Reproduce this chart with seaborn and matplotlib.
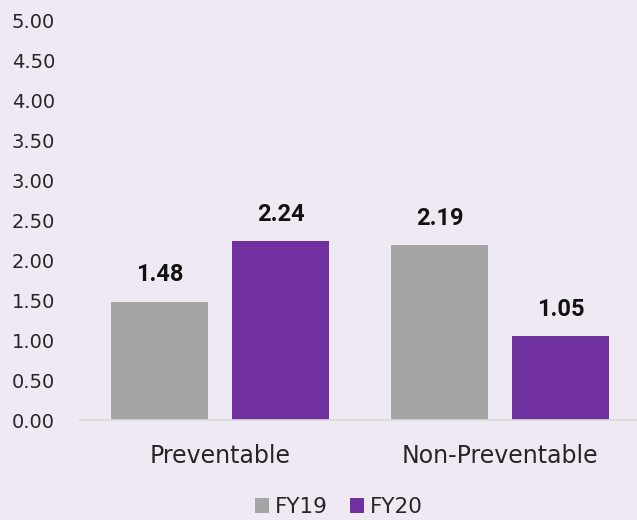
import matplotlib
matplotlib.use("Agg")
import matplotlib.pyplot as plt
import seaborn as sns
import pandas as pd
from matplotlib.patches import Patch

categories = ["Preventable", "Non-Preventable"]
fy19 = [1.48, 2.19]
fy20 = [2.24, 1.05]
series = ["FY19", "FY20"]
yticks = [0.0, 0.5, 1.0, 1.5, 2.0, 2.5, 3.0, 3.5, 4.0, 4.5, 5.0]

df = pd.DataFrame({
    "category": categories * 2,
    "value": fy19 + fy20,
    "series": ["FY19"] * len(categories) + ["FY20"] * len(categories),
})

bg = "#EFE9F4"
sns.set_theme(style="white")
plt.rcParams["font.family"] = ["DejaVu Sans"]

fig = plt.figure(figsize=(6.37, 5.2), dpi=100, facecolor=bg)
ax = fig.add_axes([80 / 637, 1 - 420 / 520, 560 / 637, 400 / 520])
ax.set_facecolor(bg)

palette = {"FY19": "#A5A5A5", "FY20": "#7030A0"}
sns.barplot(data=df, x="category", y="value", hue="series", order=categories,
            hue_order=series, palette=palette, width=0.864, gap=0.2,
            ax=ax, legend=False, saturation=1, linewidth=0)

for cont in ax.containers:
    ax.bar_label(cont, fmt="%.2f", padding=11, fontsize=17, fontweight="bold",
                 color="#111111", family=["Roboto", "DejaVu Sans"])

ax.set_ylim(0, 5)
ax.set_yticks(yticks)
ax.set_yticklabels([f"{t:.2f}" for t in yticks], fontsize=14, color="#262626")
ax.tick_params(axis="y", length=0, pad=18)
ax.tick_params(axis="x", length=0, labelsize=17, pad=17, colors="#262626")
ax.set_xlabel("")
ax.set_ylabel("")
for s in ["top", "right", "left"]:
    ax.spines[s].set_visible(False)
ax.spines["bottom"].set_color("#D9D9D9")
ax.spines["bottom"].set_linewidth(1.2)

handles = [Patch(facecolor=palette[s], edgecolor="none", label=s) for s in series]
fig.legend(handles=handles, loc="center", bbox_to_anchor=(339 / 637, 1 - 507 / 520),
           ncol=2, frameon=False, fontsize=15.5, handlelength=0.65, handleheight=0.65,
           handletextpad=0.3, columnspacing=1.0, labelcolor="#262626")

fig.savefig("out.png", dpi=100, facecolor=bg)
